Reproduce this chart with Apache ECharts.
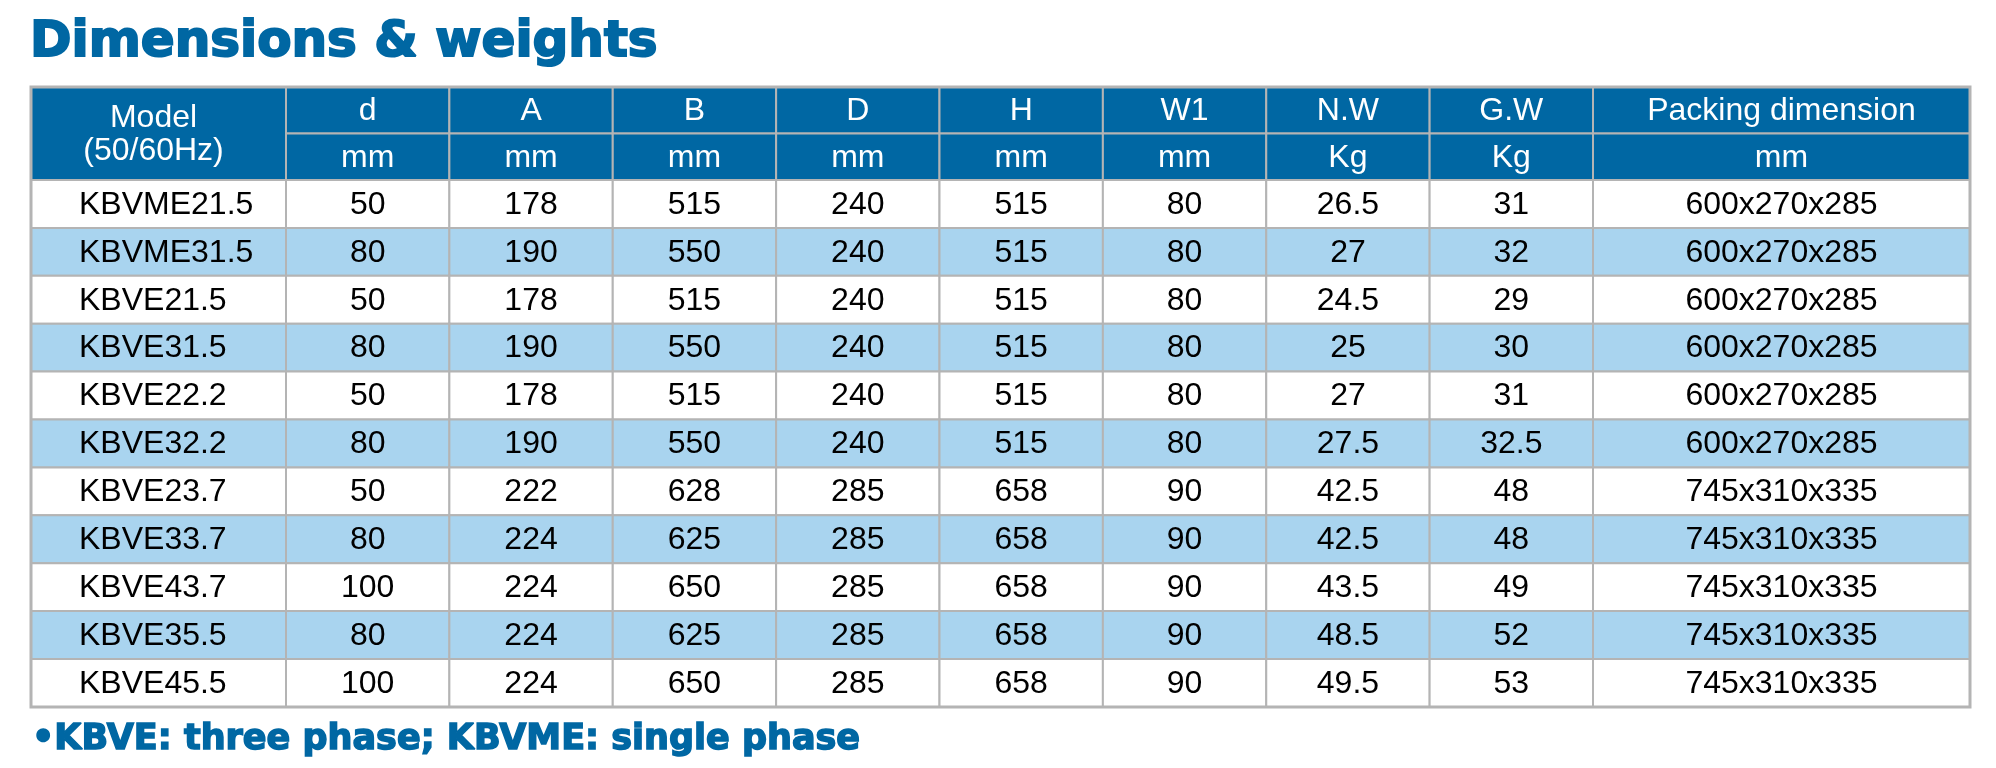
<!DOCTYPE html>
<html>
<head>
<meta charset="utf-8">
<script src="https://cdn.jsdelivr.net/npm/echarts@6/dist/echarts.min.js"></script>
<style>
html,body{margin:0;padding:0;background:#fff;}
#chart{width:1996px;height:768px;}
</style>
</head>
<body>
<div id="chart"></div>
<script>
// ---- data ----
const columnNames = ['Model', 'd', 'A', 'B', 'D', 'H', 'W1', 'N.W', 'G.W', 'Packing dimension'];
const columnUnits = ['(50/60Hz)', 'mm', 'mm', 'mm', 'mm', 'mm', 'mm', 'Kg', 'Kg', 'mm'];
const models = ['KBVME21.5', 'KBVME31.5', 'KBVE21.5', 'KBVE31.5', 'KBVE22.2', 'KBVE32.2', 'KBVE23.7', 'KBVE33.7', 'KBVE43.7', 'KBVE35.5', 'KBVE45.5'];
const dValues = [50, 80, 50, 80, 50, 80, 50, 80, 100, 80, 100];
const aValues = [178, 190, 178, 190, 178, 190, 222, 224, 224, 224, 224];
const bValues = [515, 550, 515, 550, 515, 550, 628, 625, 650, 625, 650];
const DValues = [240, 240, 240, 240, 240, 240, 285, 285, 285, 285, 285];
const hValues = [515, 515, 515, 515, 515, 515, 658, 658, 658, 658, 658];
const w1Values = [80, 80, 80, 80, 80, 80, 90, 90, 90, 90, 90];
const netWeights = [26.5, 27, 24.5, 25, 27, 27.5, 42.5, 42.5, 43.5, 48.5, 49.5];
const grossWeights = [31, 32, 29, 30, 31, 32.5, 48, 48, 49, 52, 53];
const packingDims = ['600x270x285', '600x270x285', '600x270x285', '600x270x285', '600x270x285', '600x270x285',
  '745x310x335', '745x310x335', '745x310x335', '745x310x335', '745x310x335'];
const titleText = 'Dimensions & weights';
const noteText = '\u2022KBVE: three phase; KBVME: single phase';

// ---- layout (sizes in table units) ----
const colWidths = [255, 163.375, 163.375, 163.375, 163.375, 163.375, 163.375, 163.375, 163.375, 377];
const headerRowHeight = 46.5;
const dataRowHeight = 47.9;
const modelTextInset = 48;

const columnsData = [models, dValues, aValues, bValues, DValues, hValues, w1Values, netWeights, grossWeights, packingDims];

const colStarts = [];
let acc = 0;
colWidths.forEach(w => { colStarts.push(acc); acc += w; });
const tableWidth = acc;
const tableHeight = headerRowHeight * 2 + dataRowHeight * models.length;

const cells = [];
// header
columnNames.forEach((name, c) => {
  const x0 = colStarts[c], x1 = colStarts[c] + colWidths[c];
  if (c === 0) {
    cells.push({ v: [x0, x1, 0, headerRowHeight * 2], text: name + '\n' + columnUnits[c], kind: 'head', shift: -5 });
  } else {
    cells.push({ v: [x0, x1, 0, headerRowHeight], text: name, kind: 'head' });
    cells.push({ v: [x0, x1, headerRowHeight, headerRowHeight * 2], text: columnUnits[c], kind: 'head' });
  }
});
// body
models.forEach((m, r) => {
  const y0 = headerRowHeight * 2 + dataRowHeight * r;
  columnsData.forEach((col, c) => {
    const x0 = colStarts[c], x1 = colStarts[c] + colWidths[c];
    cells.push({ v: [x0, x1, y0, y0 + dataRowHeight], text: String(col[r]), kind: r % 2 === 1 ? 'alt' : 'plain', left: c === 0 });
  });
});
// outer frame
cells.push({ v: [0, tableWidth, 0, tableHeight], text: '', kind: 'frame' });

const BLUE = '#0067a3';
const LIGHT = '#a9d4ef';
const BORDER = '#b4b4b4';

const chart = echarts.init(document.getElementById('chart'), null, { renderer: 'canvas' });
chart.setOption({
  animation: false,
  backgroundColor: '#ffffff',
  title: [
    {
      text: titleText, left: 30, top: 18, padding: 0,
      textStyle: { fontFamily: 'DejaVu Sans', fontWeight: 'bold', fontSize: 50, color: BLUE,
        textBorderColor: BLUE, textBorderWidth: 2 }
    },
    {
      text: noteText, left: 32, top: 722, padding: 0,
      textStyle: { fontFamily: 'DejaVu Sans', fontWeight: 'bold', fontSize: 35, color: BLUE,
        textBorderColor: BLUE, textBorderWidth: 1.5 }
    }
  ],
  grid: { left: 31, top: 87, width: tableWidth, height: tableHeight, containLabel: false },
  xAxis: { type: 'value', min: 0, max: tableWidth, show: false },
  yAxis: { type: 'value', min: 0, max: tableHeight, inverse: true, show: false },
  series: [{
    type: 'custom',
    silent: true,
    clip: false,
    data: cells.map(c => c.v),
    renderItem: function (params, api) {
      const cell = cells[params.dataIndex];
      const p0 = api.coord([api.value(0), api.value(2)]);
      const p1 = api.coord([api.value(1), api.value(3)]);
      const w = p1[0] - p0[0], h = p1[1] - p0[1];
      if (cell.kind === 'frame') {
        return {
          type: 'rect', z2: 10,
          shape: { x: p0[0], y: p0[1], width: w, height: h },
          style: { fill: null, stroke: BORDER, lineWidth: 3 }
        };
      }
      const fill = cell.kind === 'head' ? BLUE : (cell.kind === 'alt' ? LIGHT : '#ffffff');
      const color = cell.kind === 'head' ? '#ffffff' : '#000000';
      const tx = cell.left ? p0[0] + modelTextInset : p0[0] + w / 2 + (cell.shift || 0);
      return {
        type: 'group',
        children: [
          {
            type: 'rect',
            shape: { x: p0[0], y: p0[1], width: w, height: h },
            style: { fill: fill, stroke: BORDER, lineWidth: 2 }
          },
          {
            type: 'text', z2: 5,
            style: {
              text: cell.text,
              x: tx, y: p0[1] + h / 2 + 1,
              align: cell.left ? 'left' : 'center', verticalAlign: 'middle',
              fontFamily: 'Liberation Sans', fontSize: 32, lineHeight: 33,
              fill: color
            }
          }
        ]
      };
    }
  }]
});
</script>
</body>
</html>
